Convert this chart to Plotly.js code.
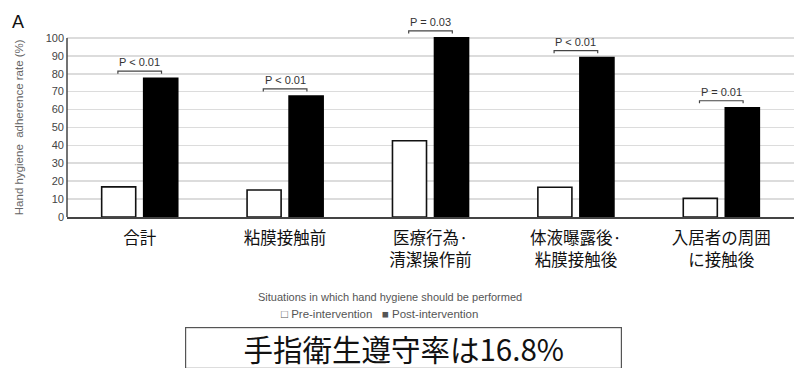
<!DOCTYPE html>
<html>
<head>
<meta charset="utf-8">
<script src="https://cdn.plot.ly/plotly-3.0.1.min.js"></script>
<style>
  html, body { margin: 0; padding: 0; background: #fff; }
  #chart { width: 794px; height: 368px; }
</style>
</head>
<body>
<div id="chart"></div>
<script>
// Hand hygiene adherence by situation, before and after the intervention
const categories = [
  '合計',
  '粘膜接触前',
  '医療行為·<br>清潔操作前',
  '体液曝露後·<br>粘膜接触後',
  '入居者の周囲<br>に接触後'
];
const seriesNames = ['Pre-intervention', 'Post-intervention'];
const preValues = [16.8, 15.1, 42.6, 16.6, 10.4];
const postValues = [77.5, 67.6, 100, 89, 61];
const pLabels = ['P < 0.01', 'P < 0.01', 'P = 0.03', 'P < 0.01', 'P = 0.01'];
const yTicks = [0, 10, 20, 30, 40, 50, 60, 70, 80, 90, 100];

const latin = 'Liberation Sans, Arial, sans-serif';
const cjk = 'Noto Sans CJK JP, Noto Sans, sans-serif';

const traces = [
  {
    type: 'bar', name: seriesNames[0], x: categories, y: preValues,
    marker: { color: '#ffffff', line: { color: '#111111', width: 1.6 } },
    hoverinfo: 'skip'
  },
  {
    type: 'bar', name: seriesNames[1], x: categories, y: postValues,
    marker: { color: '#000000', line: { color: '#000000', width: 1.6 } },
    hoverinfo: 'skip'
  }
];

// significance brackets sit just above each post-intervention bar
const bracketGap = 3.9;   // data units above the bar top
const bracketDrop = 1.4;  // length of the end ticks
const halfSpan = 0.15;    // half width in category units
const yTop = yTicks[yTicks.length - 1];

const shapes = postValues.map((v, i) => {
  const yb = v + bracketGap;
  const x0 = i - halfSpan, x1 = i + halfSpan;
  return {
    type: 'path', xref: 'x', yref: 'y',
    path: `M${x0},${yb - bracketDrop} L${x0},${yb} L${x1},${yb} L${x1},${yb - bracketDrop}`,
    line: { color: '#444444', width: 1.2 }
  };
});
// vertical axis line, stopping at the highest tick
shapes.push({
  type: 'line', xref: 'paper', yref: 'y', x0: 0, x1: 0, y0: 0, y1: yTop,
  line: { color: '#444444', width: 1.5 }
});

const annotations = pLabels.map((t, i) => ({
  xref: 'x', yref: 'y', x: i, y: postValues[i] + bracketGap,
  text: t, showarrow: false, xanchor: 'center', yanchor: 'bottom', yshift: 1,
  font: { family: latin, size: 11, color: '#333333' }
}));

annotations.push(
  { // panel letter
    xref: 'paper', yref: 'paper', x: -0.079, y: 0.99, xanchor: 'left', yanchor: 'middle',
    text: 'A', showarrow: false, font: { family: latin, size: 18, color: '#111111' }
  },
  { // y-axis title
    xref: 'paper', yref: 'paper', x: -0.066, y: 0.456, xanchor: 'center', yanchor: 'middle',
    text: 'Hand hygiene  adherence rate (%)', textangle: -90, showarrow: false,
    font: { family: latin, size: 11.5, color: '#666666' }
  },
  { // x-axis caption
    xref: 'paper', yref: 'paper', x: 0.444, y: -0.405, xanchor: 'center', yanchor: 'middle',
    text: 'Situations in which hand hygiene should be performed', showarrow: false,
    font: { family: latin, size: 11, color: '#555555' }
  },
  { // series key
    xref: 'paper', yref: 'paper', x: 0.4305, y: -0.491, xanchor: 'center', yanchor: 'middle',
    text: '□ ' + seriesNames[0] + '\u00a0\u00a0 ■ ' + seriesNames[1], showarrow: false,
    font: { family: latin, size: 11.5, color: '#555555' }
  },
  { // boxed summary
    xref: 'paper', yref: 'paper', x: 0.463, y: -0.557, xanchor: 'center', yanchor: 'top',
    text: '手指衛生遵守率は' + preValues[0] + '%', showarrow: false,
    width: 435, height: 40, borderpad: 0, valign: 'middle',
    bordercolor: '#555555', borderwidth: 1.2, bgcolor: '#ffffff',
    font: { family: cjk, size: 29.5, color: '#111111' }
  }
);

const layout = {
  width: 794, height: 368,
  margin: { l: 67, r: 0, t: 19.5, b: 151, pad: 0 },
  paper_bgcolor: '#ffffff', plot_bgcolor: '#ffffff',
  showlegend: false,
  barmode: 'group', bargap: 0.422, bargroupgap: 0.19,
  xaxis: {
    type: 'category', showgrid: false, zeroline: false,
    showline: true, linecolor: '#444444', linewidth: 1.5,
    ticks: '', ticklabelstandoff: 6,
    tickfont: { family: cjk, size: 16.5, color: '#111111' },
    fixedrange: true
  },
  yaxis: {
    range: [0, 110], tickvals: yTicks, ticktext: yTicks.map(String),
    showgrid: true, gridcolor: '#dcdcdc', gridwidth: 1.6,
    zeroline: false, showline: false,
    ticks: '', ticklabelstandoff: 2,
    tickfont: { family: latin, size: 11, color: '#444444' },
    fixedrange: true
  },
  shapes: shapes,
  annotations: annotations
};

Plotly.newPlot('chart', traces, layout, { staticPlot: true, displayModeBar: false });
</script>
</body>
</html>
